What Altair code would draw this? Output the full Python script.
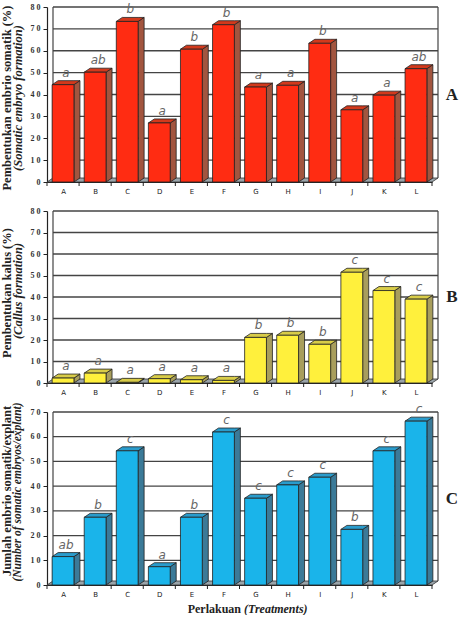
import altair as alt
import pandas as pd

treatments = ["A", "B", "C", "D", "E", "F", "G", "H", "I", "J", "K", "L"]

# Somatic embryo formation (%)
embryo_pct = [44.5, 50.2, 73.4, 27.0, 60.7, 71.9, 43.4, 44.2, 63.4, 33.0, 39.7, 51.8]
embryo_sig = ["a", "ab", "b", "a", "b", "b", "a", "a", "b", "a", "a", "ab"]

# Callus formation (%)
callus_pct = [2.3, 4.6, 0.3, 2.0, 1.5, 1.2, 21.2, 22.2, 18.0, 51.5, 43.0, 39.0]
callus_sig = ["a", "a", "a", "a", "a", "a", "b", "b", "b", "c", "c", "c"]

# Number of somatic embryos per explant
embryo_count = [11.5, 27.4, 54.3, 7.4, 27.4, 61.9, 35.1, 40.5, 43.6, 22.5, 54.3, 66.3]
count_sig = ["ab", "b", "c", "a", "b", "c", "c", "c", "c", "b", "c", "c"]

PLOT_W = 385
HALF = 0.34          # half width of a bar's front face, in category units
DEPTH_X, DEPTH_Y = 6, 4   # 3-D depth of bars and walls, in pixels
SERIF = "Liberation Serif"
N = len(treatments)
XDOM = [-0.5, N - 0.5]


def x_enc(field):
    return alt.X(
        field,
        type="quantitative",
        scale=alt.Scale(domain=XDOM, nice=False, zero=False),
        axis=alt.Axis(
            values=list(range(N)),
            labelExpr=f"{treatments}[datum.value]",
            ticks=False,
            grid=False,
            domainColor="#222222",
            domainWidth=1.2,
            labelFont="DejaVu Sans",
            labelFontSize=7,
            labelColor="#222222",
            labelPadding=5,
            title=None,
        ),
    )


def y_enc(field, ymax):
    return alt.Y(
        field,
        type="quantitative",
        scale=alt.Scale(domain=[0, ymax], nice=False),
        axis=alt.Axis(
            values=list(range(0, ymax + 1, 10)),
            labelExpr="datum.value >= 10 ? floor(datum.value / 10) + ' ' + (datum.value % 10) : '' + datum.value",
            grid=False,
            domainColor="#222222",
            domainWidth=1.2,
            tickColor="#222222",
            tickSize=4,
            labelFont=SERIF,
            labelFontSize=8,
            labelFontWeight="bold",
            labelColor="#333333",
            labelPadding=3,
            title=None,
        ),
    )


def panel(values, sig, ymax, height, front, side, top, titles, tag, extra=()):
    dx = DEPTH_X * N / PLOT_W
    dy = DEPTH_Y * ymax / height

    bars = pd.DataFrame({"i": range(N), "v": values, "sig": sig})
    bars["l"] = bars["i"] - HALF
    bars["r"] = bars["i"] + HALF
    bars["z"] = 0.0
    bars["xt"] = bars["i"] + dx / 2
    bars["yt"] = bars["v"] + dy

    side_rows, top_rows = [], []
    for i, v in enumerate(values):
        l, r = i - HALF, i + HALF
        side_rows += [
            {"i": i, "x": r, "y": v, "y2": 0.0},
            {"i": i, "x": r + dx, "y": v + dy, "y2": dy},
        ]
        top_rows += [
            {"i": i, "x": l, "y": v, "y2": v},
            {"i": i, "x": l + dx, "y": v + dy, "y2": v},
            {"i": i, "x": r, "y": v + dy, "y2": v},
            {"i": i, "x": r + dx, "y": v + dy, "y2": v + dy},
        ]
    side_df = pd.DataFrame(side_rows)
    top_df = pd.DataFrame(top_rows)

    floor_df = pd.DataFrame({
        "x": [XDOM[0], XDOM[0] + dx, XDOM[1], XDOM[1] + dx],
        "y": [0.0, dy, dy, dy],
        "y2": [0.0, 0.0, 0.0, dy],
    })

    grid_df = pd.DataFrame({"g": list(range(10, ymax + 1, 10))})
    grid_df["x1"] = XDOM[0] + dx
    grid_df["x2"] = XDOM[1] + dx

    walls_df = pd.DataFrame({
        "x": [XDOM[0] + dx, XDOM[1] + dx],
        "y": [0.0, dy],
        "y2": [float(ymax), float(ymax)],
    })

    sep_df = pd.DataFrame({"s": [k + 0.5 for k in range(-1, N)]})

    floor = alt.Chart(floor_df).mark_area(
        fill="#9aa4aa", stroke="#333333", strokeWidth=0.8, opacity=1
    ).encode(x=x_enc("x"), y=y_enc("y", ymax), y2="y2:Q")

    grid = alt.Chart(grid_df).mark_rule(color="#444444", strokeWidth=1.3).encode(
        x=x_enc("x1"), x2="x2:Q", y=y_enc("g", ymax)
    )

    walls = alt.Chart(walls_df).mark_rule(color="#444444", strokeWidth=1.2).encode(
        x=x_enc("x"), y=y_enc("y", ymax), y2="y2:Q"
    )

    seps = alt.Chart(sep_df).mark_rule(color="#222222", strokeWidth=1).encode(
        x=x_enc("s"), y=alt.value(height), y2=alt.value(height + 4)
    )

    side_face = alt.Chart(side_df).mark_area(
        fill=side, stroke="#222222", strokeWidth=0.8, opacity=1
    ).encode(x=x_enc("x"), y=y_enc("y", ymax), y2="y2:Q", detail="i:N")

    top_face = alt.Chart(top_df).mark_area(
        fill=top, stroke="#222222", strokeWidth=0.8, opacity=1
    ).encode(x=x_enc("x"), y=y_enc("y", ymax), y2="y2:Q", detail="i:N")

    front_face = alt.Chart(bars).mark_rect(
        fill=front, stroke="#222222", strokeWidth=0.8
    ).encode(x=x_enc("l"), x2="r:Q", y=y_enc("v", ymax), y2="z:Q")

    letters = alt.Chart(bars).mark_text(
        font="DejaVu Sans", fontSize=12, fontStyle="italic", color="#666666",
        baseline="bottom", dy=-1
    ).encode(x=x_enc("xt"), y=y_enc("yt", ymax), text="sig:N")

    one = pd.DataFrame({"k": [0]})
    title_layers = []
    for text, xpos, ypos, size, style in titles:
        title_layers.append(
            alt.Chart(one).mark_text(
                text=text, angle=270, font=SERIF, fontSize=size, fontWeight="bold",
                fontStyle=style, color="#222222", align="center", baseline="middle"
            ).encode(x=alt.value(xpos), y=alt.value(ypos))
        )
    label = alt.Chart(one).mark_text(
        text=tag, font=SERIF, fontSize=17, fontWeight="bold", color="#222222",
        align="center", baseline="middle"
    ).encode(x=alt.value(PLOT_W + 20), y=alt.value(height / 2))

    return alt.layer(
        floor, grid, walls, seps, side_face, top_face, front_face, letters,
        *title_layers, label, *extra
    ).properties(width=PLOT_W, height=height)


one_row = pd.DataFrame({"k": [0]})
x_title_main = alt.Chart(one_row).mark_text(
    text="Perlakuan", font=SERIF, fontSize=12, fontWeight="bold", color="#222222",
    align="right", baseline="middle"
).encode(x=alt.value(194), y=alt.value(197))
x_title_en = alt.Chart(one_row).mark_text(
    text="(Treatments)", font=SERIF, fontSize=12, fontWeight="bold", fontStyle="italic",
    color="#222222", align="left", baseline="middle"
).encode(x=alt.value(197), y=alt.value(197))

panel_a = panel(
    embryo_pct, embryo_sig, 80, 175, "#ff2c12", "#a2553f", "#d2391c",
    [("Pembentukan embrio somatik (%)", -40, 91, 12.5, "normal"),
     ("(Somatic embryo formation)", -29, 91, 12.5, "italic")],
    "A",
)
panel_b = panel(
    callus_pct, callus_sig, 80, 172, "#fff03c", "#a89e5c", "#d8cc48",
    [("Pembentukan kalus (%)", -40, 82, 12.5, "normal"),
     ("(Callus formation)", -29, 80, 12.5, "italic")],
    "B",
)
panel_c = panel(
    embryo_count, count_sig, 70, 173, "#1ab4ea", "#3b7a98", "#2a9ccc",
    [("Jumlah embrio somatik/explant", -40, 79, 12.5, "normal"),
     ("(Number of somatic embryos/explant)", -29, 80, 11.5, "italic")],
    "C",
    extra=(x_title_main, x_title_en),
)

chart = alt.vconcat(panel_a, panel_b, panel_c, spacing=29, bounds="flush").configure_view(
    stroke=None
).properties(
    padding={"left": 0, "top": 3, "right": 0, "bottom": 0}
)

chart.save("out.html", embed_options={"renderer": "svg", "actions": False})
